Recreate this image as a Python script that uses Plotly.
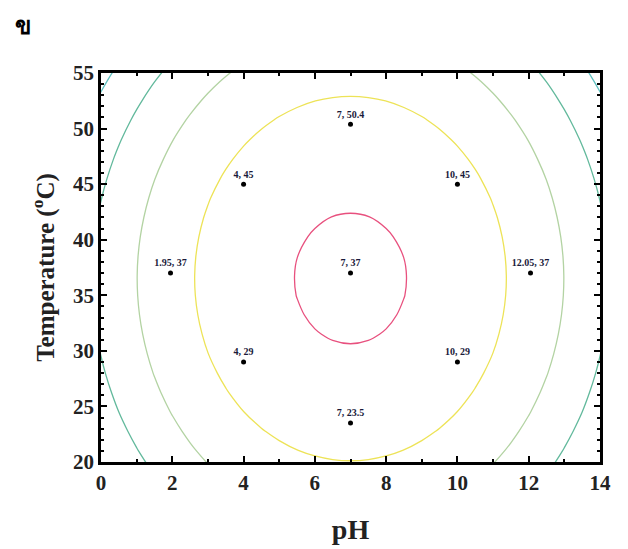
import numpy as np
import plotly.graph_objects as go

# Design points (pH, temperature) and their labels
ph_points = [7, 4, 10, 1.95, 7, 12.05, 4, 10, 7]
temp_points = [50.4, 45, 45, 37, 37, 37, 29, 29, 23.5]
point_labels = ["7, 50.4", "4, 45", "10, 45", "1.95, 37", "7, 37",
                "12.05, 37", "4, 29", "10, 29", "7, 23.5"]

# Fitted quadratic response surface
center_ph = 7.0
center_temp = 36.5
coef_ph = 0.6
coef_temp = 0.0427
z_max = 91.5
levels = [90, 80, 70, 60, 50]
level_colors = ["#e8507e", "#ede357", "#b3d3a3", "#62b99c", "#5fc0c0"]

x_ticks = [0, 2, 4, 6, 8, 10, 12, 14]
y_ticks = [20, 25, 30, 35, 40, 45, 50, 55]

gx = np.arange(-2, 16.01, 0.5)
gy = np.arange(14, 61.01, 1.75)
X, Y = np.meshgrid(gx, gy)
Z = z_max - coef_ph * (X - center_ph) ** 2 - coef_temp * (Y - center_temp) ** 2

fig = go.Figure()
for lv, col in zip(levels, level_colors):
    fig.add_trace(go.Contour(
        x=gx, y=gy, z=Z,
        contours=dict(start=lv, end=lv, size=1, coloring="none"),
        line=dict(color=col, width=1.3),
        showscale=False, hoverinfo="skip", showlegend=False,
    ))

fig.add_trace(go.Scatter(
    x=ph_points, y=temp_points, mode="markers+text",
    marker=dict(color="black", size=5),
    text=point_labels, textposition="top center",
    textfont=dict(family="Liberation Serif", size=10, color="#1a1a3a", weight="bold"),
    showlegend=False,
))

axis_common = dict(
    showline=True, linecolor="black", linewidth=2.5, mirror="allticks",
    ticks="inside", ticklen=6, tickwidth=1.5, tickcolor="black",
    showgrid=False, zeroline=False, automargin=False,
    tickfont=dict(family="Liberation Serif", size=21, color="#222", weight="bold"),
)

fig.update_xaxes(
    range=[0, 14], tickvals=x_ticks, ticktext=[str(v) for v in x_ticks],
    minor=dict(ticks="inside", ticklen=3, dtick=1, tickcolor="black", showgrid=False),
    title=dict(text="pH", font=dict(family="Liberation Serif", size=28, color="#222", weight="bold"),
               standoff=26),
    **axis_common,
)
fig.update_yaxes(
    range=[20, 55], tickvals=y_ticks, ticktext=[str(v) for v in y_ticks],
    minor=dict(ticks="inside", ticklen=3, dtick=1, tickcolor="black", showgrid=False),
    title=dict(text="Temperature (<sup>o</sup>C)",
               font=dict(family="Liberation Serif", size=25, color="#222", weight="bold"),
               standoff=12),
    **axis_common,
)

W, H = 628, 549
L, R, T, B = 93, 36, 65, 95
pw, ph = W - L - R, H - T - B
fx, fy = 15, 17  # panel letter centre in figure pixels
fig.add_annotation(
    x=(fx - L) / pw, y=(H - B - fy) / ph, xref="paper", yref="paper",
    xanchor="center", yanchor="middle",
    text="ข", showarrow=False,
    font=dict(family="Noto Sans, DejaVu Sans", size=24, color="black", weight="bold"),
)

fig.update_layout(
    width=W, height=H,
    margin=dict(l=L, r=R, t=T, b=B),
    paper_bgcolor="white", plot_bgcolor="white",
)

fig.write_html("out.html")
